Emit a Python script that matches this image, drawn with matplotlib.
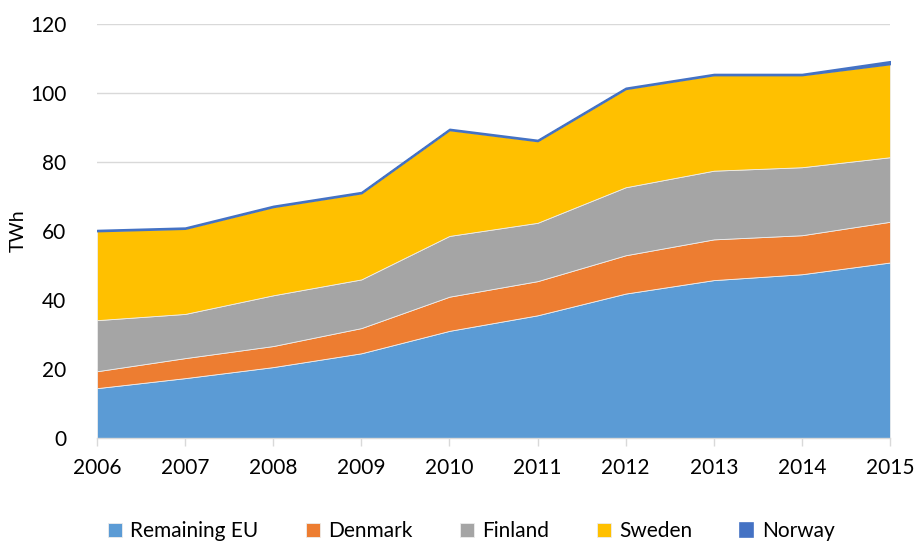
import matplotlib.pyplot as plt

plt.rcParams['font.family'] = ['Lato', 'DejaVu Sans']

years = [2006, 2007, 2008, 2009, 2010, 2011, 2012, 2013, 2014, 2015]
remainingEU = [14.5, 17.4, 20.6, 24.6, 31.1, 35.6, 41.9, 45.8, 47.5, 50.9]
denmark = [4.9, 5.8, 6.1, 7.3, 9.9, 9.9, 11.1, 11.8, 11.3, 11.8]
finland = [14.8, 12.8, 14.7, 14.1, 17.6, 16.9, 19.7, 19.9, 19.7, 18.7]
sweden = [25.8, 24.7, 25.6, 25.0, 30.7, 23.7, 28.5, 27.7, 26.7, 27.0]
norway = [0.3, 0.3, 0.3, 0.3, 0.3, 0.3, 0.3, 0.3, 0.3, 0.8]

labels = ["Remaining EU", "Denmark", "Finland", "Sweden", "Norway"]
colors = ["#5B9BD5", "#ED7D31", "#A5A5A5", "#FFC000", "#4472C4"]

fig = plt.figure(figsize=(9.19, 5.41), dpi=100)
ax = fig.add_axes([0.1055, 0.19, 0.863, 0.7657])

polys = ax.stackplot(years, remainingEU, denmark, finland, sweden, norway,
                     labels=labels, colors=colors, edgecolor='#EDEDED', linewidth=0.6)
# Norway is a thin band, draw it with a matching edge so it shows as a line
polys[-1].set_edgecolor(colors[-1])
polys[-1].set_linewidth(1.2)

ax.set_xlim(2006, 2015)
ax.set_ylim(0, 120)
ax.set_yticks(range(0, 121, 20))
ax.set_xticks(years)
ax.grid(axis='y', color='#D9D9D9', linewidth=1)
ax.set_axisbelow(True)
for s in ['top', 'right', 'left']:
    ax.spines[s].set_visible(False)
ax.spines['bottom'].set_color('#D9D9D9')
ax.spines['bottom'].set_linewidth(1)
ax.tick_params(axis='y', length=0, pad=22, labelsize=15)
ax.tick_params(axis='x', length=6, color='#D9D9D9', width=1, pad=8, labelsize=15)
ax.set_ylabel("TWh", fontsize=14, labelpad=2)

ax.legend(loc='upper center', bbox_to_anchor=(0.472, -0.155), ncol=5, frameon=False,
          fontsize=15, handlelength=0.65, handleheight=0.65, columnspacing=2.3,
          handletextpad=0.4)

fig.savefig("out.png", dpi=100)
